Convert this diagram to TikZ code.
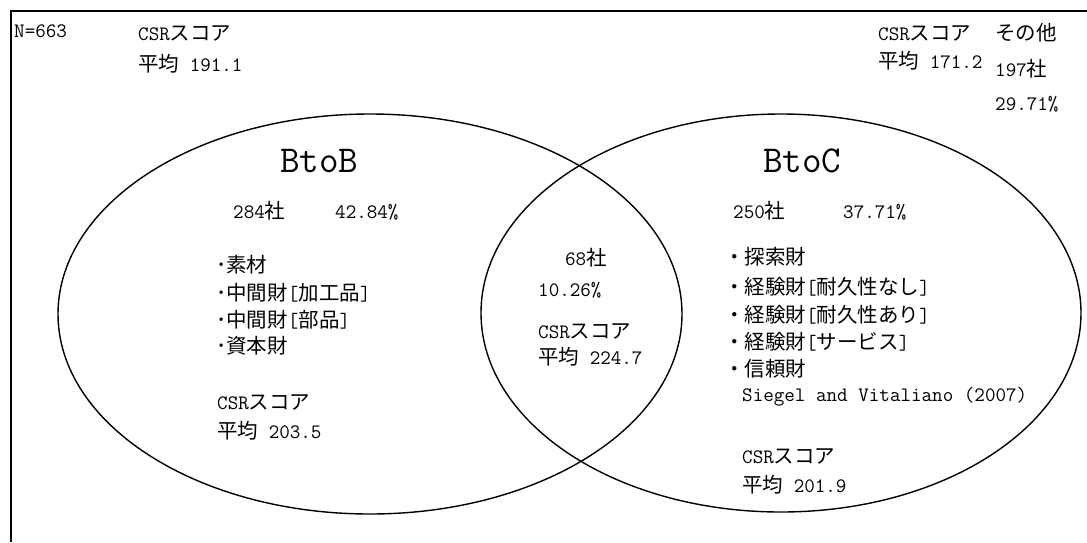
\documentclass[tikz,border=0pt]{standalone}
\usepackage{fontspec}
\setmainfont{Noto Sans CJK JP}
\usetikzlibrary{shapes.geometric}
\newcommand\ltn[1]{{\ttfamily #1}}
\tikzset{
  txt/.style={anchor=base west, inner sep=0pt, font=\fontsize{20.5}{24}\selectfont},
  bigtxt/.style={anchor=base west, inner sep=0pt, font=\fontsize{38}{44}\selectfont\ttfamily},
  venn/.style={draw, ellipse, line width=1.4pt, inner sep=0pt},
  frameline/.style={line width=2pt}
}
\begin{document}
\begin{tikzpicture}[x=1pt,y=-1pt]
\useasboundingbox (0,0) rectangle (1087,542);
% frame
\coordinate (fbl) at (11,542);
\coordinate (ftl) at (11,11);
\coordinate (ftr) at (1087,11);
\draw[frameline] (fbl) -- (ftl) -- (ftr);
% ellipses
\node[venn, minimum width=624pt, minimum height=400pt] (btob) at (370,314) {};
\node[venn, minimum width=600pt, minimum height=398pt] (btoc) at (781,313) {};
% top texts
\node[txt] (n) at (14,37) {\ltn{N=663}};
\node[txt] (csrA) at (138,40) {\ltn{CSR}スコア};
\node[txt] (avgA) at (138,71) {平均\ltn{~191.1}};
\node[txt] (csrB) at (878,40) {\ltn{CSR}スコア};
\node[txt] (avgB) at (878,68.5) {平均\ltn{~171.2}};
\node[txt] (oth) at (995,40.5) {その他};
\node[txt] (othn) at (995,76) {\ltn{197}社};
\node[txt] (othp) at (995,110) {\ltn{29.71\%}};
% titles
\node[bigtxt] (tB) at (280,172) {BtoB};
\node[bigtxt] (tC) at (763,172) {BtoC};
% BtoB
\node[txt] (bn) at (233,218) {\ltn{284}社};
\node[txt] (bp) at (335,218) {\ltn{42.84\%}};
\node[txt] (l1) at (216,272) {･素材};
\node[txt] (l2) at (216,300) {･中間財\ltn{[}加工品\ltn{]}};
\node[txt] (l3) at (216,327) {･中間財\ltn{[}部品\ltn{]}};
\node[txt] (l4) at (216,353) {･資本財};
\node[txt] (csrL) at (217,409) {\ltn{CSR}スコア};
\node[txt] (avgL) at (217,438) {平均\ltn{~203.5}};
% centre
\node[txt] (cn) at (565,265) {\ltn{68}社};
\node[txt] (cp) at (538,296) {\ltn{10.26\%}};
\node[txt] (csrM) at (538,338) {\ltn{CSR}スコア};
\node[txt] (avgM) at (538,364) {平均\ltn{~224.7}};
% BtoC
\node[txt] (cn2) at (733,218) {\ltn{250}社};
\node[txt] (cp2) at (843,218) {\ltn{37.71\%}};
\node[txt] (r1) at (724,264) {・探索財};
\node[txt] (r2) at (724,294) {・経験財\ltn{[}耐久性なし\ltn{]}};
\node[txt] (r3) at (724,322) {・経験財\ltn{[}耐久性あり\ltn{]}};
\node[txt] (r4) at (724,349) {・経験財\ltn{[}サービス\ltn{]}};
\node[txt] (r5) at (724,376) {・信頼財};
\node[txt] (r6) at (742,401) {\ltn{Siegel and Vitaliano (2007)}};
\node[txt] (csrR) at (742,463) {\ltn{CSR}スコア};
\node[txt] (avgR) at (742,492) {平均\ltn{~201.9}};
\end{tikzpicture}
\end{document}
